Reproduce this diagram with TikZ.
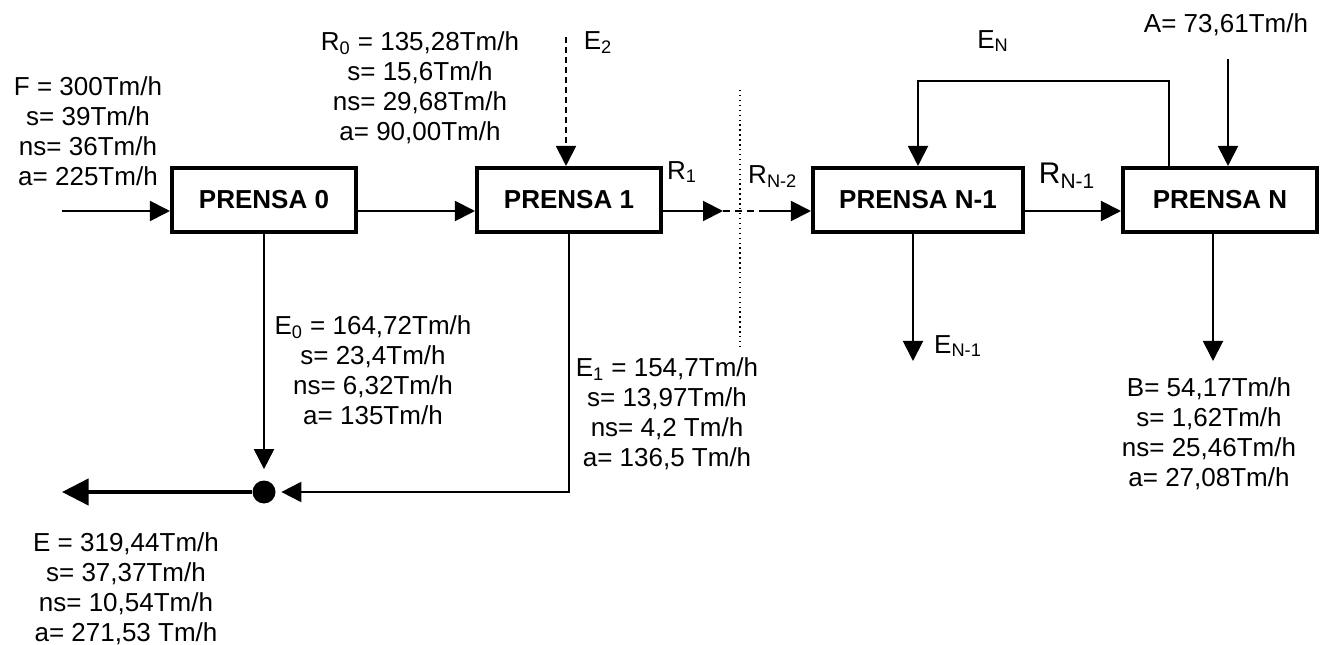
\documentclass[tikz,border=0pt]{standalone}
\usepackage{fontspec}
\setmainfont{Liberation Sans}
\usetikzlibrary{arrows.meta}
\tikzset{
prensa/.style={draw,line width=2.3pt,minimum height=12.8mm,inner sep=0pt,font=\fontsize{14.8}{17.07}\selectfont\bfseries},
flow/.style={line width=1.1pt,-{Triangle[length=4mm,width=4mm]}},
datos/.style={align=center,inner sep=0pt}
}
\begin{document}
\begin{tikzpicture}[x=0.2mm,y=-0.2mm,font=\fontsize{14.8}{17.07}\selectfont]
\useasboundingbox (0,0) rectangle (1341,645);
\node[prensa,minimum width=36.8mm] (p0) at (264,200) {PRENSA 0};
\node[prensa,minimum width=36.8mm] (p1) at (569,200) {PRENSA 1};
\node[prensa,minimum width=42mm] (pn1) at (918,200) {PRENSA N-1};
\node[prensa,minimum width=38.8mm] (pn) at (1220,200) {PRENSA N};
\node[circle,fill,inner sep=0pt,minimum size=4.6mm] (jn) at (264,492) {};
\coordinate (fin) at (62,211);
\coordinate (r1) at (723,211);
\coordinate (r2) at (765,211);
\coordinate (en) at (918,81);
\coordinate (ain) at (1228,59);
\coordinate (e2in) at (566,37);
\coordinate (en1) at (913,361);
\coordinate (bout) at (1213,361);
\coordinate (eout) at (62,492);
\draw[flow] (fin) -- ([yshift=-2.2mm]p0.west);
\draw[flow] ([yshift=-2.2mm]p0.east) -- ([yshift=-2.2mm]p1.west);
\draw[flow] ([yshift=-2.2mm]p1.east) -- (r1);
\draw[line width=1.1pt,dash pattern=on 1.4mm off 1mm] (r1) -- (r2);
\draw[flow] (r2) -- ([yshift=-2.2mm]pn1.west);
\draw[flow] ([yshift=-2.2mm]pn1.east) -- ([yshift=-2.2mm]pn.west);
\draw[flow] ([xshift=-10.2mm]pn.north) |- (en) -- (pn1.north);
\draw[flow] (ain) -- (ain |- pn.north);
\draw[flow,dash pattern=on 1.2mm off 0.8mm] (e2in) -- (e2in |- p1.north);
\draw[flow,shorten >=2.2mm] (p0.south) -- (jn.north);
\draw[flow,shorten >=1.1mm] (p1.south) |- (jn.east);
\draw[line width=2.3pt,-{Triangle[length=5.3mm,width=5.2mm]}] (jn.west) -- (eout);
\draw[flow] (en1 |- pn1.south) -- (en1);
\draw[flow] (bout |- pn.south) -- (bout);
\draw[dotted,line width=0.8pt] (740,90) -- (740,350);
\node[datos] (fdat) at (88,131) {F = 300Tm/h\\s= 39Tm/h\\ns= 36Tm/h\\a= 225Tm/h};
\node[datos] (r0dat) at (420,88) {R\textsubscript{0} = 135,28Tm/h\\s= 15,6Tm/h\\ns= 29,68Tm/h\\a= 90,00Tm/h};
\node[datos] (e0dat) at (373,370) {E\textsubscript{0} = 164,72Tm/h\\s= 23,4Tm/h\\ns= 6,32Tm/h\\a= 135Tm/h};
\node[datos] (e1dat) at (667,414) {E\textsubscript{1} = 154,7Tm/h\\s= 13,97Tm/h\\ns= 4,2 Tm/h\\a= 136,5 Tm/h};
\node[datos] (bdat) at (1209,434) {B= 54,17Tm/h\\s= 1,62Tm/h\\ns= 25,46Tm/h\\a= 27,08Tm/h};
\node[datos] (edat) at (126,589) {E = 319,44Tm/h\\s= 37,37Tm/h\\ns= 10,54Tm/h\\a= 271,53 Tm/h};
\node (adat) at (1226,25) {A= 73,61Tm/h};
\node (enlab) at (993,41) {E\textsubscript{N}};
\node (e2lab) at (598,43) {E\textsubscript{2}};
\node[anchor=west] (en1lab) at (928,346) {E\textsubscript{N-1}};
\node[anchor=west] (r1lab) at (661,172) {R\textsubscript{1}};
\node[anchor=west] (rn2lab) at (742,177) {R\textsubscript{N-2}};
\node[font=\fontsize{17}{20}\selectfont] (rn1lab) at (1067,176) {R\textsubscript{N-1}};
\end{tikzpicture}
\end{document}
